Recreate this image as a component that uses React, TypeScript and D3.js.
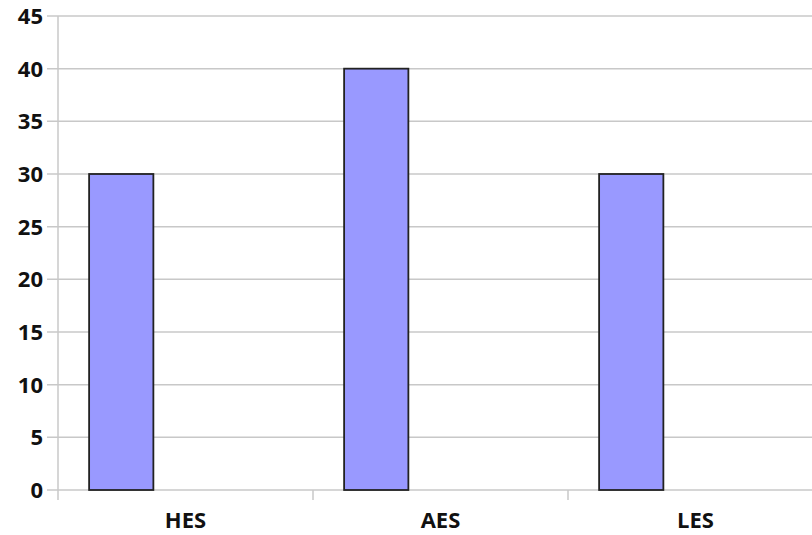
import React from "react";
import * as d3 from "d3";

const categories = ["HES", "AES", "LES"];
const values = [30, 40, 30];
const yTicks = [0, 5, 10, 15, 20, 25, 30, 35, 40, 45];

export default function App() {
  const W = 812, H = 535;
  const x0 = 58, bandW = 255, top = 16, bottom = 490;
  const x = d3.scaleBand<string>().domain(categories).range([x0, x0 + bandW * categories.length]).padding(0);
  const y = d3.scaleLinear().domain([0, 45]).range([bottom, top]);
  const bw = x.bandwidth();
  const font = "'Open Sans', sans-serif";
  return (
    <svg width={W} height={H} style={{ position: "absolute", left: 0, top: 0, background: "#fff" }}>
      {yTicks.map((t) => (
        <g key={t}>
          <line x1={47} x2={W} y1={y(t)} y2={y(t)} stroke="#c8c8c8" strokeWidth={1.5} />
          <text x={43} y={y(t)} dy="0.36em" textAnchor="end" fontFamily={font} fontWeight="bold" fontSize={22} fill="#111">{t}</text>
        </g>
      ))}
      <line x1={x0} x2={x0} y1={top} y2={bottom + 10} stroke="#c8c8c8" strokeWidth={1.5} />
      {categories.map((c, i) => (
        <g key={c}>
          {i > 0 && <line x1={x(c)!} x2={x(c)!} y1={bottom} y2={bottom + 10} stroke="#c8c8c8" strokeWidth={1.5} />}
          <rect x={x(c)! + bw * 0.122} y={y(values[i])} width={bw * 0.252} height={bottom - y(values[i])} fill="#9999ff" stroke="#222" strokeWidth={1.8} />
          <text x={x(c)! + bw / 2} y={528} textAnchor="middle" fontFamily={font} fontWeight="bold" fontSize={22} fill="#111">{c}</text>
        </g>
      ))}
    </svg>
  );
}
